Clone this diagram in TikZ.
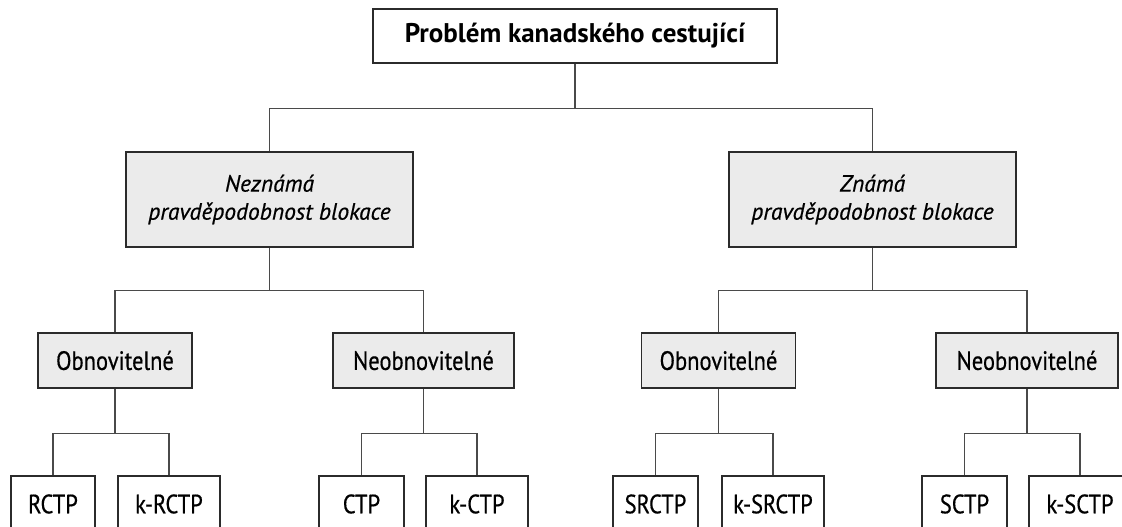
\documentclass[tikz,border=0pt]{standalone}
\usepackage{fontspec}
\setmainfont{PT Sans}
\newfontfamily\narrowfont{PT Sans}[FakeStretch=0.85, FakeBold=0.5]
\newfontfamily\slantfont{PT Sans}[FakeBold=0.6]
\definecolor{boxline}{HTML}{2B2B2B}
\definecolor{linkline}{HTML}{4A4A4A}
\definecolor{boxfill}{HTML}{EBEBEB}
\tikzset{
  box/.style={draw=boxline, line width=1.6pt, inner sep=0pt, align=center,
              font=\narrowfont\fontsize{26.5}{28}\selectfont},
  rootbox/.style={box, fill=white, minimum width=404pt, minimum height=54pt,
                  font=\bfseries\fontsize{27}{30}\selectfont},
  probbox/.style={box, fill=boxfill, minimum width=287pt, minimum height=95pt,
                  font=\slantfont\itshape\fontsize{23.5}{28}\selectfont},
  kindbox/.style={box, fill=boxfill, minimum height=55pt},
  leafbox/.style={box, fill=white, minimum height=56pt},
  link/.style={draw=linkline, line width=1.2pt}
}
\begin{document}
\begin{tikzpicture}[x=1pt, y=-1pt]
  \useasboundingbox (0,0) rectangle (1122,527);
  \fill[white] (0,0) rectangle (1122,527);
  \clip (0,0) rectangle (1122,527);

  % root
  \node[rootbox] (root) at (575,36) {Problém kanadského cestující};

  % blocking probability
  \node[probbox] (unk) at (269.5,199.5) {Neznámá\\pravděpodobnost blokace};
  \node[probbox] (kno) at (872.5,199.5) {Známá\\pravděpodobnost blokace};

  % recoverable / non-recoverable
  \node[kindbox, minimum width=154pt] (uo) at (115,360.5) {Obnovitelné};
  \node[kindbox, minimum width=181pt] (un) at (423.5,360.5) {Neobnovitelné};
  \node[kindbox, minimum width=154pt] (ko) at (718.5,360.5) {Obnovitelné};
  \node[kindbox, minimum width=182pt] (kn) at (1027,360.5) {Neobnovitelné};

  % problem variants
  \node[leafbox, minimum width=84pt]  (rctp)   at (53,504)    {RCTP};
  \node[leafbox, minimum width=102pt] (krctp)  at (169,504)   {k-RCTP};
  \node[leafbox, minimum width=85pt]  (ctp)    at (361.5,504) {CTP};
  \node[leafbox, minimum width=102pt] (kctp)   at (477,504)   {k-CTP};
  \node[leafbox, minimum width=85pt]  (srctp)  at (655.5,504) {SRCTP};
  \node[leafbox, minimum width=102pt] (ksrctp) at (773,504)   {k-SRCTP};
  \node[leafbox, minimum width=85pt]  (sctp)   at (964.5,504) {SCTP};
  \node[leafbox, minimum width=102pt] (ksctp)  at (1080,504)  {k-SCTP};

  % tree connectors
  \draw[link] (root.south) -- ++(0,45) -| (unk.north);
  \draw[link] (root.south) ++(0,45) -| (kno.north);

  \draw[link] (unk.south) -- ++(0,43) -| (uo.north);
  \draw[link] (unk.south) ++(0,43) -| (un.north);
  \draw[link] (kno.south) -- ++(0,43) -| (ko.north);
  \draw[link] (kno.south) ++(0,43) -| (kn.north);

  \draw[link] (uo.south) -- ++(0,45) -| (rctp.north);
  \draw[link] (uo.south) ++(0,45) -| (krctp.north);
  \draw[link] (un.south) -- ++(0,45) -| (ctp.north);
  \draw[link] (un.south) ++(0,45) -| (kctp.north);
  \draw[link] (ko.south) -- ++(0,45) -| (srctp.north);
  \draw[link] (ko.south) ++(0,45) -| (ksrctp.north);
  \draw[link] (kn.south) -- ++(0,45) -| (sctp.north);
  \draw[link] (kn.south) ++(0,45) -| (ksctp.north);
\end{tikzpicture}
\end{document}
